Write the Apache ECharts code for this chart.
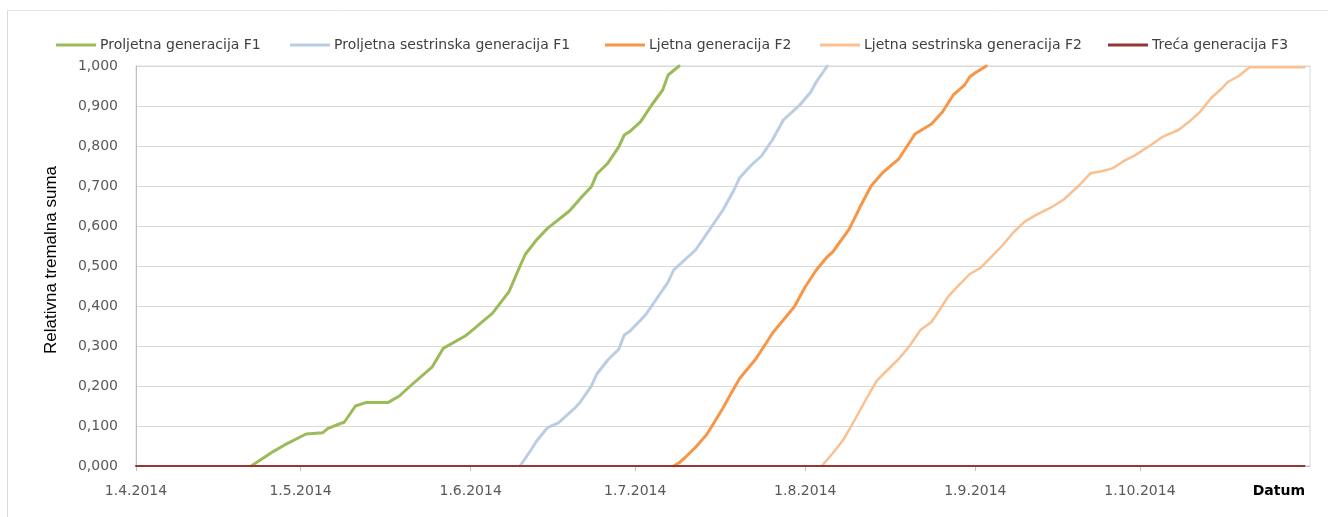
<!DOCTYPE html>
<html>
<head>
<meta charset="utf-8">
<script src="https://cdn.jsdelivr.net/npm/echarts@6/dist/echarts.min.js"></script>
<style>
html,body{margin:0;padding:0;background:#fff;}
#chart{width:1328px;height:517px;}
</style>
</head>
<body>
<div id="chart"></div>
<script>
// Series names
const seriesNames = [
  'Proljetna generacija F1',
  'Proljetna sestrinska generacija F1',
  'Ljetna generacija F2',
  'Ljetna sestrinska generacija F2',
  'Treća generacija F3'
];

// Proljetna generacija F1
const springF1 = [
  ['2014-04-22',0],['2014-04-26',0.036],['2014-04-28',0.052],['2014-05-02',0.080],
  ['2014-05-05',0.083],['2014-05-06',0.094],['2014-05-09',0.11],['2014-05-11',0.15],
  ['2014-05-13',0.159],['2014-05-17',0.159],['2014-05-19',0.175],['2014-05-21',0.2],
  ['2014-05-25',0.248],['2014-05-27',0.294],['2014-05-31',0.325],['2014-06-01',0.336],
  ['2014-06-05',0.382],['2014-06-08',0.436],['2014-06-10',0.50],['2014-06-11',0.53],
  ['2014-06-13',0.565],['2014-06-15',0.594],['2014-06-19',0.6375],['2014-06-21',0.669],
  ['2014-06-23',0.698],['2014-06-24',0.73],['2014-06-26',0.757],['2014-06-28',0.798],
  ['2014-06-29',0.8275],['2014-06-30',0.836],['2014-07-02',0.861],['2014-07-04',0.9025],
  ['2014-07-06',0.94],['2014-07-07',0.9775],['2014-07-09',1.0]
];

// Proljetna sestrinska generacija F1
const springSisterF1 = [
  ['2014-06-10',0],['2014-06-12',0.04],['2014-06-13',0.062],['2014-06-15',0.096],
  ['2014-06-17',0.108],['2014-06-20',0.145],['2014-06-21',0.16],['2014-06-23',0.2],
  ['2014-06-24',0.23],['2014-06-26',0.265],['2014-06-28',0.292],['2014-06-29',0.3275],
  ['2014-06-30',0.337],['2014-07-02',0.365],['2014-07-03',0.38],['2014-07-05',0.42],
  ['2014-07-07',0.46],['2014-07-08',0.49],['2014-07-10',0.515],['2014-07-12',0.54],
  ['2014-07-13',0.56],['2014-07-15',0.60],['2014-07-17',0.64],['2014-07-19',0.69],
  ['2014-07-20',0.72],['2014-07-22',0.75],['2014-07-24',0.775],['2014-07-26',0.815],
  ['2014-07-28',0.865],['2014-07-30',0.89],['2014-07-31',0.9025],['2014-08-02',0.935],
  ['2014-08-03',0.96],['2014-08-05',1.0]
];

// Ljetna generacija F2
const summerF2 = [
  ['2014-07-08',0],['2014-07-09',0.008],['2014-07-10',0.02],['2014-07-12',0.047],
  ['2014-07-14',0.078],['2014-07-15',0.10],['2014-07-17',0.145],['2014-07-18',0.17],
  ['2014-07-20',0.218],['2014-07-21',0.235],['2014-07-23',0.268],['2014-07-25',0.31],
  ['2014-07-26',0.332],['2014-07-28',0.365],['2014-07-30',0.398],['2014-08-01',0.448],
  ['2014-08-03',0.49],['2014-08-05',0.523],['2014-08-06',0.535],['2014-08-09',0.592],
  ['2014-08-11',0.648],['2014-08-13',0.70],['2014-08-15',0.732],['2014-08-18',0.767],
  ['2014-08-21',0.83],['2014-08-24',0.855],['2014-08-26',0.885],['2014-08-28',0.928],
  ['2014-08-30',0.952],['2014-08-31',0.973],['2014-09-01',0.983],['2014-09-03',1.0]
];

// Ljetna sestrinska generacija F2
const summerSisterF2 = [
  ['2014-08-04',0],['2014-08-06',0.032],['2014-08-08',0.067],['2014-08-10',0.115],
  ['2014-08-11',0.14],['2014-08-12',0.165],['2014-08-14',0.213],['2014-08-16',0.24],
  ['2014-08-18',0.267],['2014-08-20',0.30],['2014-08-22',0.34],['2014-08-24',0.36],
  ['2014-08-25',0.38],['2014-08-27',0.423],['2014-08-29',0.452],['2014-08-31',0.48],
  ['2014-09-02',0.496],['2014-09-04',0.524],['2014-09-06',0.5525],['2014-09-08',0.585],
  ['2014-09-10',0.611],['2014-09-12',0.627],['2014-09-15',0.648],['2014-09-17',0.665],
  ['2014-09-20',0.7025],['2014-09-22',0.732],['2014-09-24',0.737],['2014-09-26',0.744],
  ['2014-09-28',0.762],['2014-09-30',0.776],['2014-10-03',0.8025],['2014-10-05',0.822],
  ['2014-10-08',0.84],['2014-10-10',0.861],['2014-10-12',0.886],['2014-10-14',0.92],
  ['2014-10-16',0.945],['2014-10-17',0.96],['2014-10-19',0.975],['2014-10-20',0.986],
  ['2014-10-21',0.997],['2014-10-31',0.997]
];

// Treća generacija F3
const thirdF3 = [['2014-04-01',0],['2014-10-31',0]];

// Axis range / tick labels
const xMin = '2014-04-01';
const xMax = '2014-11-01';
const yTicks = [0,0.1,0.2,0.3,0.4,0.5,0.6,0.7,0.8,0.9,1.0];

const colors = ['#9BBB59','#B9CDE5','#F79646','#FAC090','#953735'];
const widths = [3,3,3,2.5,2];
const datasets = [springF1, springSisterF1, summerF2, summerSisterF2, thirdF3];
const legendLefts = [56, 290, 605, 820, 1108];

const chart = echarts.init(document.getElementById('chart'), null, {renderer:'canvas'});

const legends = seriesNames.map((n, i) => ({
  data: [n],
  left: legendLefts[i],
  top: 38,
  icon: 'rect',
  itemWidth: 40,
  itemHeight: 3,
  itemGap: 0,
  padding: 0,
  textStyle: {fontFamily: 'DejaVu Sans', fontSize: 14, color: '#404040', padding: [0, 0, 0, -1]}
}));

const option = {
  animation: false,
  backgroundColor: '#fff',
  legend: legends,
  grid: {left: 136, right: 18, top: 66, bottom: 51, show: true, borderColor: '#d9d9d9', borderWidth: 1},
  xAxis: {
    type: 'time',
    min: xMin,
    max: xMax,
    minInterval: 28 * 86400000,
    maxInterval: 31 * 86400000,
    name: 'Datum',
    nameLocation: 'end',
    nameGap: -5,
    nameTextStyle: {fontFamily: 'DejaVu Sans', fontSize: 14, fontWeight: 'bold', color: '#000', align: 'right', verticalAlign: 'top', padding: [18, 0, 0, 0]},
    axisLine: {show: true, lineStyle: {color: '#bfbfbf'}},
    axisTick: {show: true, length: 5, lineStyle: {color: '#bfbfbf'}},
    splitLine: {show: false},
    axisLabel: {
      margin: 18,
      showMaxLabel: false,
      fontFamily: 'DejaVu Sans', fontSize: 14, color: '#595959',
      formatter: function (val) {
        const d = new Date(val);
        if (d.getMonth() === 10) return '';
        return d.getDate() + '.' + (d.getMonth() + 1) + '.' + d.getFullYear();
      }
    }
  },
  yAxis: {
    type: 'value',
    min: yTicks[0],
    max: yTicks[yTicks.length - 1],
    interval: 0.1,
    name: 'Relativna tremalna suma',
    nameLocation: 'middle',
    nameGap: 76,
    nameTextStyle: {fontFamily: 'Liberation Sans', fontSize: 17, color: '#000', padding: [0, 0, 0, 12]},
    axisLine: {show: true, lineStyle: {color: '#bfbfbf'}},
    axisTick: {show: false},
    splitLine: {show: true, lineStyle: {color: '#d9d9d9', width: 1}},
    axisLabel: {
      margin: 18,
      fontFamily: 'DejaVu Sans', fontSize: 14, color: '#595959',
      formatter: v => v.toFixed(3).replace('.', ',')
    }
  },
  graphic: [
    {type: 'line', shape: {x1: 7.5, y1: 10, x2: 7.5, y2: 517}, style: {stroke: '#d9d9d9', lineWidth: 1}, silent: true},
    {type: 'line', shape: {x1: 7, y1: 10.5, x2: 1328, y2: 10.5}, style: {stroke: '#e6e6e6', lineWidth: 1}, silent: true}
  ],
  series: seriesNames.map((n, i) => ({
    name: n,
    type: 'line',
    data: datasets[i],
    symbol: 'none',
    showSymbol: false,
    smooth: false,
    clip: false,
    z: i === 4 ? 10 : 2 + i,
    lineStyle: {color: colors[i], width: widths[i], cap: 'round', join: 'round'},
    itemStyle: {color: colors[i]}
  }))
};

chart.setOption(option);
</script>
</body>
</html>
